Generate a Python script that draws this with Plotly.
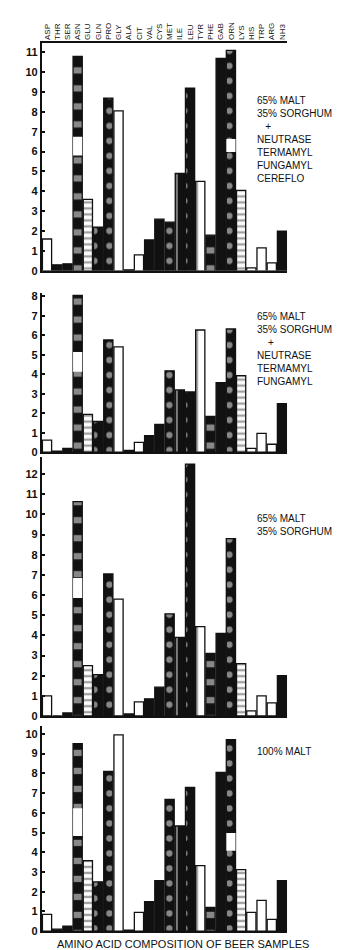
import plotly.graph_objects as go
from plotly.subplots import make_subplots

# ---- data -------------------------------------------------------------
amino_acids = ["ASP", "THR", "SER", "ASN", "GLU", "GLN", "PRO", "GLY",
               "ALA", "CIT", "VAL", "CYS", "MET", "ILE", "LEU", "TYR",
               "PHE", "GAB", "ORN", "LYS", "HIS", "TRP", "ARG", "NH3"]

# 65% malt / 35% sorghum + Neutrase, Termamyl, Fungamyl, Cereflo
p1_values = [1.6, 0.3, 0.35, 10.8, 3.6, 2.2, 8.7, 8.05, 0.05, 0.8, 1.55, 2.6,
             2.45, 4.9, 9.2, 4.5, 1.8, 10.7, 11.1, 4.05, 0.15, 1.15, 0.4, 2.0]
# 65% malt / 35% sorghum + Neutrase, Termamyl, Fungamyl
p2_values = [0.62, 0.05, 0.2, 8.06, 1.94, 1.58, 5.77, 5.41, 0.1, 0.51, 0.85, 1.43,
             4.18, 3.2, 3.1, 6.28, 1.84, 3.57, 6.33, 3.93, 0.2, 0.97, 0.41, 2.5]
# 65% malt / 35% sorghum
p3_values = [1.0, 0.0, 0.15, 10.64, 2.5, 2.05, 7.05, 5.8, 0.1, 0.7, 0.85, 1.43,
             5.07, 3.9, 12.5, 4.43, 3.1, 4.1, 8.8, 2.6, 0.25, 1.0, 0.65, 2.0]
# 100% malt
p4_values = [0.85, 0.1, 0.25, 9.5, 3.57, 2.5, 8.1, 9.95, 0.05, 0.95, 1.5, 2.56,
             6.68, 5.33, 7.29, 3.32, 1.2, 8.04, 9.7, 3.12, 0.95, 1.56, 0.6, 2.56]

# white breaks inside some bars (category, lower value, upper value)
p1_breaks = [("ASN", 5.8, 6.75), ("ORN", 5.98, 6.64)]
p2_breaks = [("ASN", 4.13, 5.15)]
p3_breaks = [("ASN", 5.86, 6.85)]
p4_breaks = [("ASN", 4.82, 6.23), ("ORN", 4.07, 4.97)]

panel_labels = [
    "65% MALT<br>35% SORGHUM<br>&nbsp;&nbsp;&nbsp;+<br>NEUTRASE<br>TERMAMYL<br>FUNGAMYL<br>CEREFLO",
    "65% MALT<br>35% SORGHUM<br>&nbsp;&nbsp;&nbsp;&nbsp;+<br>NEUTRASE<br>TERMAMYL<br>FUNGAMYL",
    "65% MALT<br>35% SORGHUM",
    "100% MALT",
]
title_text = "AMINO ACID COMPOSITION OF BEER SAMPLES"

# ---- styling ----------------------------------------------------------
bar_styles = ["open", "solid", "solid", "mixed", "ladder", "dotted", "dotted", "open",
              "solid", "open", "solid", "solid", "dotted", "stripe", "dotted", "vline",
              "mixed", "solid", "dotted", "ladder", "open", "open", "open", "solid"]
INK = "#111111"
STYLE = {
    "solid":  dict(bg=INK, fg=INK, shape="", size=8, sol=0.3),
    "open":   dict(bg="white", fg=INK, shape="", size=8, sol=0.3),
    "mixed":  dict(bg=INK, fg="white", shape="-", size=18, sol=0.35),
    "ladder": dict(bg="white", fg=INK, shape="-", size=6, sol=0.4),
    "dotted": dict(bg=INK, fg="white", shape=".", size=15, sol=0.14),
    "stripe": dict(bg=INK, fg="white", shape="|", size=10, sol=0.18),
    "vline":  dict(bg="white", fg=INK, shape="|", size=10, sol=0.25),
}

H = 950
W = 346
# pixel geometry of each panel: (baseline px, top px, y max shown, top tick)
panels = [(263, 33.7, 11.45, 11), (446, 285, 8.2, 8), (712, 451, 12.84, 12), (929, 722, 10.4, 10)]
label_top_px = [84, 302, 505, 740]

fig = make_subplots(rows=4, cols=1)
all_values = [p1_values, p2_values, p3_values, p4_values]
all_breaks = [p1_breaks, p2_breaks, p3_breaks, p4_breaks]

for i, (vals, brks) in enumerate(zip(all_values, all_breaks)):
    r = i + 1
    st = [STYLE[s] for s in bar_styles]
    fig.add_trace(go.Bar(
        x=amino_acids, y=vals,
        marker=dict(
            color=[s["bg"] for s in st],
            line=dict(color=INK, width=1.3),
            pattern=dict(shape=[s["shape"] for s in st],
                         fgcolor=[s["fg"] for s in st],
                         bgcolor=[s["bg"] for s in st],
                         size=[s["size"] for s in st],
                         solidity=[s["sol"] for s in st],
                         fillmode="overlay"),
        ),
        showlegend=False, hoverinfo="skip",
    ), row=r, col=1)
    if brks:
        fig.add_trace(go.Bar(
            x=[b[0] for b in brks],
            y=[b[2] - b[1] for b in brks],
            base=[b[1] for b in brks],
            marker=dict(color="white", line=dict(width=0)),
            showlegend=False, hoverinfo="skip",
        ), row=r, col=1)

x_dom = [33.9 / W, 279.1 / W]
for i, (base_px, top_px, ymax, tmax) in enumerate(panels):
    r = i + 1
    xa = "xaxis" if r == 1 else f"xaxis{r}"
    ya = "yaxis" if r == 1 else f"yaxis{r}"
    fig.layout[xa].update(
        domain=x_dom, type="category", categoryorder="array", categoryarray=amino_acids,
        range=[-0.5, 23.5], showline=True, linecolor=INK, linewidth=1.6,
        showgrid=False, zeroline=False, ticks="",
        showticklabels=(r == 1),
    )
    if r == 1:
        fig.layout[xa].update(side="top", mirror=True, tickangle=-90,
                              tickfont=dict(family="Liberation Sans Narrow, Liberation Sans", size=8, color=INK))
    fig.layout[ya].update(
        domain=[1 - base_px / H, 1 - top_px / H], range=[0, ymax],
        tickmode="array", tickvals=list(range(0, tmax + 1)),
        ticktext=[str(v) for v in range(0, tmax + 1)],
        showline=True, linecolor=INK, linewidth=2,
        ticks="inside", ticklen=3, tickwidth=1.5, tickcolor=INK,
        showgrid=False, zeroline=False,
        tickfont=dict(family="Liberation Sans", size=11, color=INK, weight="bold"),
    )
    fig.add_annotation(
        text=panel_labels[i], xref="paper", yref="paper",
        x=247 / W, y=1 - label_top_px[i] / H, xanchor="left", yanchor="top",
        align="left", showarrow=False,
        font=dict(family="Liberation Sans", size=10, color=INK),
    )

fig.add_annotation(
    text=title_text, xref="paper", yref="paper", x=175 / W, y=1 - 942 / H,
    xanchor="center", yanchor="middle", showarrow=False,
    font=dict(family="Liberation Sans", size=11, color=INK),
)

fig.update_layout(
    width=W, height=H, autosize=False,
    margin=dict(l=0, r=0, t=0, b=0),
    paper_bgcolor="white", plot_bgcolor="white",
    barmode="overlay", bargap=0.1,
)

fig.write_html("out.html")
